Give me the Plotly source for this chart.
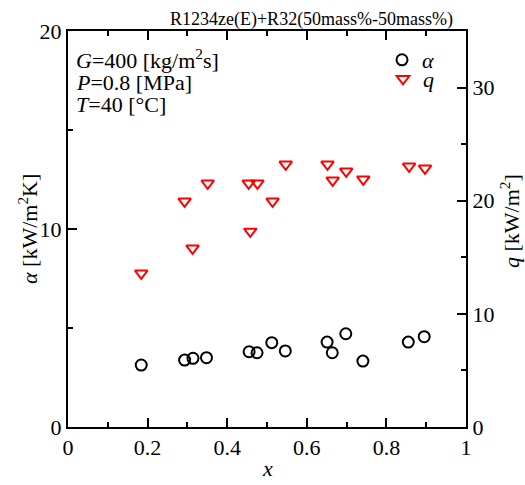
import plotly.graph_objects as go

# ---- data ----
x_alpha = [0.184, 0.293, 0.314, 0.348, 0.455, 0.475, 0.512, 0.546, 0.651, 0.664, 0.698, 0.741, 0.855, 0.895]
alpha = [3.13, 3.38, 3.47, 3.50, 3.80, 3.75, 4.26, 3.84, 4.29, 3.75, 4.71, 3.33, 4.29, 4.56]

x_q = [0.184, 0.293, 0.313, 0.351, 0.454, 0.458, 0.476, 0.514, 0.547, 0.652, 0.665, 0.699, 0.742, 0.857, 0.897]
q = [13.58, 19.95, 15.79, 21.54, 21.54, 17.29, 21.54, 19.95, 23.22, 23.22, 21.80, 22.60, 21.89, 23.04, 22.86]

x_ticks = [0, 0.2, 0.4, 0.6, 0.8, 1.0]
x_ticklabels = ["0", "0.2", "0.4", "0.6", "0.8", "1"]
y1_ticks = [0, 10, 20]
y2_ticks = [0, 10, 20, 30]

FONT = "Liberation Serif, Times New Roman, DejaVu Serif, serif"
W, H = 525, 485
# plot area in page pixels
L, R, T, B = 68, 466, 31, 427


def px(xp):
    return (xp - L) / (R - L)


def py(yp):
    return (B - yp) / (B - T)


fig = go.Figure()
fig.add_trace(go.Scatter(
    x=x_alpha, y=alpha, mode="markers", name="<i>α</i>",
    marker=dict(symbol="circle-open", size=11, color="black", line=dict(width=2, color="black")),
    legend="legend",
))
fig.add_trace(go.Scatter(
    x=x_q, y=q, mode="markers", name="<i>q</i>", yaxis="y2",
    marker=dict(symbol="triangle-down-open", size=11, color="red", line=dict(width=2, color="red")),
    legend="legend2",
))

axis_common = dict(
    showgrid=False, zeroline=False, showline=True, linecolor="black", linewidth=2,
    ticks="inside", ticklen=9, tickwidth=2, tickcolor="black", automargin=False,
    tickfont=dict(family=FONT, size=22, color="black"),
)

fig.update_layout(
    width=W, height=H,
    margin=dict(l=L, r=W - R, t=T, b=H - B, pad=0, autoexpand=False),
    paper_bgcolor="white", plot_bgcolor="white",
    font=dict(family=FONT, color="black"),
    xaxis=dict(
        range=[0, 1], tickvals=x_ticks, ticktext=x_ticklabels, mirror="ticks",
        minor=dict(dtick=0.1, ticks="inside", ticklen=5, tickwidth=2, tickcolor="black"),
        **axis_common,
    ),
    yaxis=dict(
        range=[0, 20], tickvals=y1_ticks,
        minor=dict(dtick=5, ticks="inside", ticklen=5, tickwidth=2, tickcolor="black"),
        **axis_common,
    ),
    yaxis2=dict(
        range=[0, 35], tickvals=y2_ticks, overlaying="y", side="right",
        minor=dict(dtick=5, ticks="inside", ticklen=5, tickwidth=2, tickcolor="black"),
        **axis_common,
    ),
    legend=dict(x=px(382), y=py(60), xanchor="left", yanchor="middle",
                font=dict(family=FONT, size=22), bgcolor="rgba(0,0,0,0)", borderwidth=0),
    legend2=dict(x=px(383), y=py(79), xanchor="left", yanchor="middle",
                 font=dict(family=FONT, size=22), bgcolor="rgba(0,0,0,0)", borderwidth=0),
    showlegend=True,
)

ann_font = dict(family=FONT, size=22, color="black")
lines = [
    ("<i>G</i>=400 [kg/m<sup>2</sup>s]", 59),
    ("<i>P</i>=0.8 [MPa]", 82),
    ("<i>T</i>=40 [°C]", 104),
]
for txt, yp in lines:
    fig.add_annotation(text=txt, xref="paper", yref="paper", x=px(74), y=py(yp),
                       xanchor="left", yanchor="middle", showarrow=False, font=ann_font)

fig.add_annotation(text="R1234ze(E)+R32(50mass%-50mass%)", xref="paper", yref="paper",
                   x=px(455), y=py(19), xanchor="right", yanchor="middle", showarrow=False,
                   font=dict(family=FONT, size=18, color="black"))

# axis titles
title_font = dict(family=FONT, size=22, color="black")
fig.add_annotation(text="<i>x</i>", xref="paper", yref="paper", x=px(267), y=py(469),
                   xanchor="center", yanchor="middle", showarrow=False, font=title_font)
fig.add_annotation(text="<i>α</i> [kW/m<sup>2</sup>K]", xref="paper", yref="paper",
                   x=px(28), y=py(229), xanchor="center", yanchor="middle", textangle=-90,
                   showarrow=False, font=title_font)
fig.add_annotation(text="<i>q</i> [kW/m<sup>2</sup>]", xref="paper", yref="paper",
                   x=px(510), y=py(221), xanchor="center", yanchor="middle", textangle=-90,
                   showarrow=False, font=title_font)

fig.write_html(
    "out.html",
    config={"displayModeBar": False},
    post_script="document.body.style.margin='0';document.body.style.overflow='hidden';",
)
